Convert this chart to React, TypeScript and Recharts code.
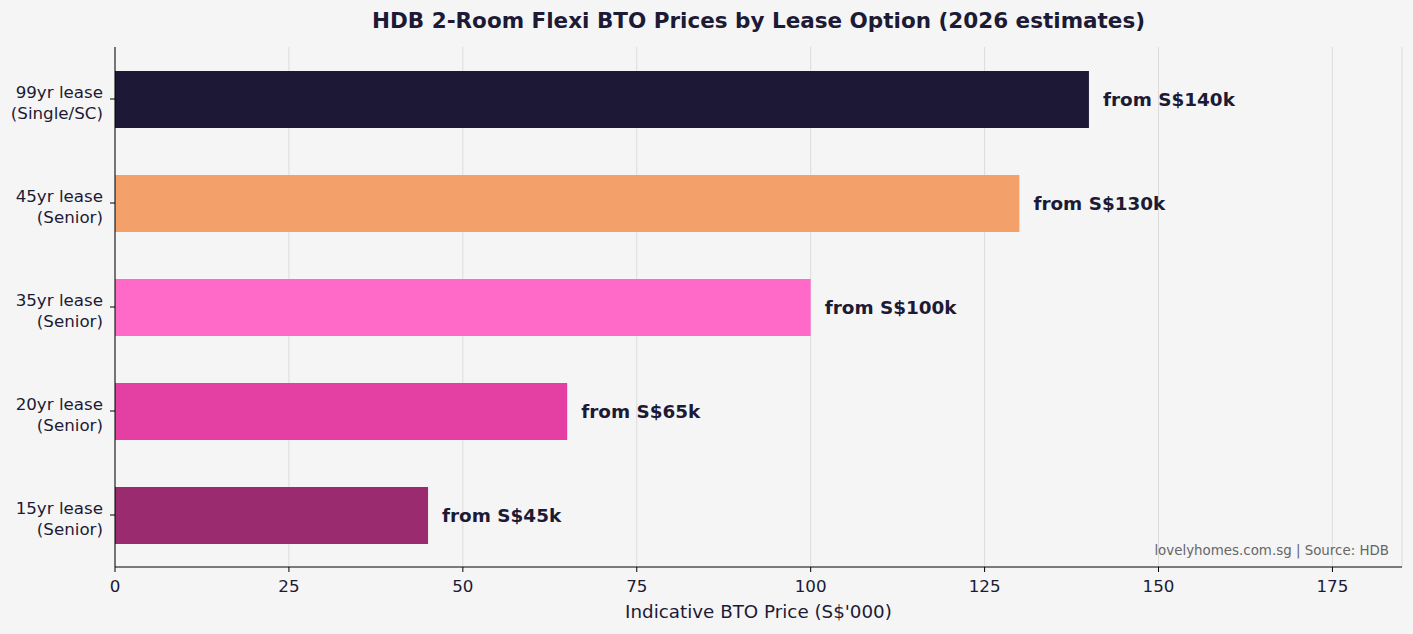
import { Bar, BarChart, CartesianGrid, Cell, LabelList, XAxis, YAxis } from "recharts";

const leaseTerms = ["99yr lease", "45yr lease", "35yr lease", "20yr lease", "15yr lease"];
const eligibility = ["Single/SC", "Senior", "Senior", "Senior", "Senior"];
const prices = [140, 130, 100, 65, 45];
const barColors = ["#1c1836", "#f4a06b", "#ff69c8", "#e440a4", "#9b2b6f"];
const xTicks = [0, 25, 50, 75, 100, 125, 150, 175];

const ink = "#1c1a35";
const font = "'DejaVu Sans', sans-serif";

const data = leaseTerms.map((term, i) => ({
  option: `${term}\n(${eligibility[i]})`,
  price: prices[i],
  color: barColors[i]
}));

function LeaseTick({ x, y, payload }: any) {
  const [first, second] = String(payload.value).split("\n");
  return (
    <text x={x} y={y} textAnchor="end" fill={ink} fontSize={16.7} fontFamily={font}>
      <tspan x={x} y={y - 1}>{first}</tspan>
      <tspan x={x} y={y + 20}>{second}</tspan>
    </text>
  );
}

export default function App() {
  return (
    <div
      style={{
        position: "absolute",
        left: 0,
        top: 0,
        width: 1413,
        height: 634,
        background: "#f5f5f5",
        fontFamily: font,
        color: ink
      }}
    >
      <div
        style={{
          position: "absolute",
          left: 115,
          width: 1287,
          top: 7,
          textAlign: "center",
          fontWeight: "bold",
          fontSize: 21.5,
          lineHeight: "28px"
        }}
      >
        HDB 2-Room Flexi BTO Prices by Lease Option (2026 estimates)
      </div>
      <BarChart
        width={1413}
        height={634}
        data={data}
        layout="vertical"
        margin={{ top: 47, right: 11, bottom: 11, left: 0 }}
        barSize={57}
      >
        <CartesianGrid horizontal={false} stroke="#dcdcdc" strokeWidth={1} />
        <XAxis
          type="number"
          dataKey="price"
          domain={[0, 185]}
          ticks={xTicks}
          height={56}
          tickSize={5}
          tickMargin={8}
          stroke="#000"
          tick={{ fill: ink, fontSize: 16.7, fontFamily: font }}
          label={{
            value: "Indicative BTO Price (S$'000)",
            position: "insideBottom",
            offset: 5,
            fill: ink,
            fontSize: 18.3,
            fontFamily: font
          }}
        />
        <YAxis
          type="category"
          dataKey="option"
          width={115}
          tickSize={5}
          tickMargin={7}
          stroke="#000"
          tick={<LeaseTick />}
          interval={0}
        />
        <Bar dataKey="price" isAnimationActive={false}>
          {data.map((d) => (
            <Cell key={d.option} fill={d.color} />
          ))}
          <LabelList
            dataKey="price"
            position="right"
            offset={14}
            formatter={(v: any) => `from S$${v}k`}
            fill={ink}
            fontSize={18.4}
            fontWeight="bold"
            fontFamily={font}
          />
        </Bar>
      </BarChart>
      <div
        style={{
          position: "absolute",
          right: 24,
          top: 542,
          fontSize: 13.4,
          lineHeight: "18px",
          color: "#666"
        }}
      >
        lovelyhomes.com.sg | Source: HDB
      </div>
    </div>
  );
}
